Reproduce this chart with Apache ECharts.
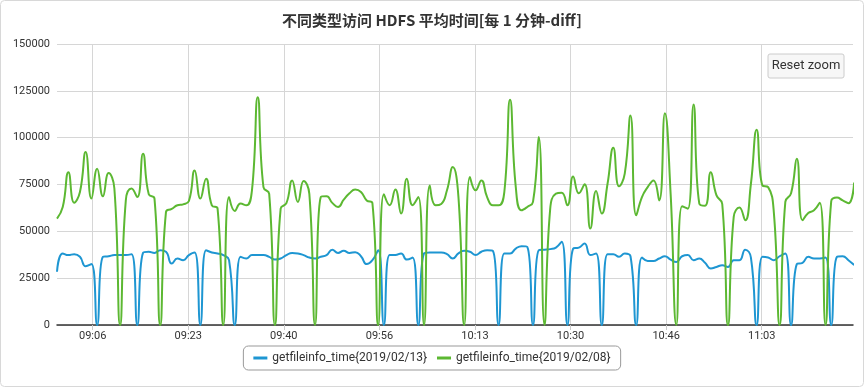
<!DOCTYPE html>
<html>
<head>
<meta charset="utf-8">
<script src="https://cdn.jsdelivr.net/npm/echarts@6/dist/echarts.min.js"></script>
<style>
html,body{margin:0;padding:0;background:#fff;}
#chart{width:864px;height:387px;}
</style>
</head>
<body>
<div id="chart"></div>
<script>
const titleText = '不同类型访问 HDFS 平均时间[每 1 分钟-diff]';
const seriesNames = ['getfileinfo_time{2019/02/13}', 'getfileinfo_time{2019/02/08}'];

// sample timestamps (one per minute)
const times = [
'09:00:27','09:01:27','09:02:27','09:03:27','09:04:27','09:05:27','09:06:27','09:07:27','09:08:27','09:09:27',
'09:10:27','09:11:27','09:12:27','09:13:27','09:14:27','09:15:27','09:16:27','09:17:27','09:18:27','09:19:27',
'09:20:27','09:21:27','09:22:27','09:23:27','09:24:27','09:25:27','09:26:27','09:27:27','09:28:27','09:29:27',
'09:30:27','09:31:27','09:32:27','09:33:27','09:34:27','09:35:27','09:36:27','09:37:27','09:38:27','09:39:27',
'09:40:27','09:41:27','09:42:27','09:43:27','09:44:27','09:45:27','09:46:27','09:47:27','09:48:27','09:49:27',
'09:50:27','09:51:27','09:52:27','09:53:27','09:54:27','09:55:27','09:56:27','09:57:27','09:58:27','09:59:27',
'10:00:27','10:01:27','10:02:27','10:03:27','10:04:27','10:05:27','10:06:27','10:07:27','10:08:27','10:09:27',
'10:10:27','10:11:27','10:12:27','10:13:27','10:14:27','10:15:27','10:16:27','10:17:27','10:18:27','10:19:27',
'10:20:27','10:21:27','10:22:27','10:23:27','10:24:27','10:25:27','10:26:27','10:27:27','10:28:27','10:29:27',
'10:30:27','10:31:27','10:32:27','10:33:27','10:34:27','10:35:27','10:36:27','10:37:27','10:38:27','10:39:27',
'10:40:27','10:41:27','10:42:27','10:43:27','10:44:27','10:45:27','10:46:27','10:47:27','10:48:27','10:49:27',
'10:50:27','10:51:27','10:52:27','10:53:27','10:54:27','10:55:27','10:56:27','10:57:27','10:58:27','10:59:27',
'11:00:27','11:01:27','11:02:27','11:03:27','11:04:27','11:05:27','11:06:27','11:07:27','11:08:27','11:09:27',
'11:10:27','11:11:27','11:12:27','11:13:27','11:14:27','11:15:27','11:16:27','11:17:27','11:18:27','11:19:27'
];

// getfileinfo_time{2019/02/13}
const blueValues = [
28400,38200,37300,37800,36400,31400,32500,0,36400,36700,
37300,37300,37300,37800,0,38500,39100,38500,39900,39100,
32800,35500,34600,37300,38700,0,39900,38700,38200,37300,
34600,0,36400,35500,37300,37300,37300,36400,34900,35500,
37300,38500,38200,37300,36000,35500,36400,37300,40200,38500,
39600,38500,38900,36700,32500,34600,39900,0,37300,37300,
38200,34900,36000,0,38200,38700,38700,38700,37800,35500,
38200,39600,39100,37300,39100,39900,39600,0,38200,38200,
40800,42100,41700,0,39900,40200,40500,41300,44400,0,
40800,41300,43500,37300,38200,0,37800,37800,36400,38200,
36700,0,36000,34200,34200,35500,36700,34900,33600,36700,
37300,34600,35500,33200,30200,31000,31900,31000,34600,34600,
40200,36000,0,36400,36000,34600,36700,38200,0,32500,
33200,36400,35500,35500,36000,0,36400,36700,34600,32000
];

// getfileinfo_time{2019/02/08}
const greenValues = [
56800,63000,81600,65300,71000,92300,67500,83400,68700,81100,
73000,0,66500,72800,68300,91400,69800,67500,0,60300,
62000,63900,64400,66200,82500,67500,78100,63900,62100,0,
68300,60900,64800,63900,72000,121600,73600,70000,0,62100,
65000,77200,65700,76900,70000,0,68300,68700,65200,63000,
66900,70300,72300,71000,66500,65000,0,69800,63900,72300,
59500,78100,63900,68300,0,74500,63900,64600,71900,84300,
68300,0,79000,71900,77200,68300,63900,63900,71000,120200,
73600,61200,63000,65700,100300,0,62000,70100,70600,63900,
79300,70300,75100,51500,71500,59500,75400,94600,74000,80800,
111800,58600,68300,73600,77200,66500,113100,70000,0,63400,
62100,117700,64800,63700,81600,69200,64600,0,57700,62700,
55900,75400,104200,74500,73600,60000,0,65700,70300,88800,
55900,59800,61200,65300,0,66000,68000,66500,65000,76000
];

// x-axis tick times and axis end
const tickTimes = ['09:06:40','09:23:20','09:40:00','09:56:40','10:13:20','10:30:00','10:46:40','11:03:20'];
const xAxisEnd = '11:19:15';
const yTicks = [0, 25000, 50000, 75000, 100000, 125000, 150000];

function toSec(t) {
  const p = t.split(':').map(Number);
  return p[0] * 3600 + p[1] * 60 + (p[2] || 0);
}
function fmt(s) {
  const h = Math.floor(s / 3600), m = Math.floor((s % 3600) / 60);
  return String(h).padStart(2, '0') + ':' + String(m).padStart(2, '0');
}

const xs = times.map(toSec);
const tickSecs = tickTimes.map(toSec);

const chart = echarts.init(document.getElementById('chart'), null, { renderer: 'canvas' });
const font = 'Roboto, "Noto Sans CJK SC", sans-serif';

const option = {
  animation: false,
  textStyle: { fontFamily: font },
  title: {
    text: titleText,
    left: 'center',
    top: 8,
    textStyle: { fontFamily: '"Noto Sans CJK SC", sans-serif', fontSize: 15, fontWeight: 'bold', color: '#333' }
  },
  grid: { left: 57, right: 11, top: 44, bottom: 62, containLabel: false },
  xAxis: {
    type: 'value',
    min: xs[0],
    max: toSec(xAxisEnd),
    axisLine: { show: true, onZero: false, lineStyle: { color: '#333', width: 1.5 } },
    axisTick: { show: true, customValues: tickSecs, length: 5, lineStyle: { color: '#ccc' } },
    axisLabel: { customValues: tickSecs, formatter: v => fmt(v), color: '#333', fontSize: 11, margin: 6, fontFamily: font },
    splitLine: { show: true, lineStyle: { color: '#d6d6d6', width: 1 } }
  },
  yAxis: {
    type: 'value',
    min: yTicks[0],
    max: yTicks[yTicks.length - 1],
    interval: yTicks[1] - yTicks[0],
    axisLine: { show: false },
    axisTick: { show: false },
    axisLabel: { color: '#333', fontSize: 11, margin: 7, fontFamily: font, formatter: v => String(v) },
    splitLine: { show: true, lineStyle: { color: '#d6d6d6', width: 1 } }
  },
  legend: {
    data: seriesNames,
    left: 'center',
    top: 346,
    icon: 'rect',
    itemWidth: 14,
    itemHeight: 3,
    itemGap: 10,
    borderColor: '#999',
    borderWidth: 1,
    borderRadius: 5,
    padding: [6, 10],
    textStyle: { color: '#333', fontSize: 12, fontFamily: font }
  },
  graphic: [
    { type: 'rect', shape: { x: 0.5, y: 0.5, width: 863, height: 386, r: 4 }, style: { fill: 'none', stroke: '#d8d8d8', lineWidth: 1 }, silent: true, z: -1 },
    { type: 'rect', shape: { x: 768, y: 54, width: 76, height: 24, r: 2 }, style: { fill: '#f7f7f7', stroke: '#cccccc', lineWidth: 1 }, z: 10 },
    { type: 'text', x: 806, y: 66, style: { text: 'Reset zoom', fill: '#333', font: '13px ' + font, textAlign: 'center', textVerticalAlign: 'middle' }, z: 11 }
  ],
  series: [
    {
      name: seriesNames[0], type: 'line', smooth: true, showSymbol: false,
      data: xs.map((x, i) => [x, blueValues[i]]),
      lineStyle: { width: 2, color: '#1e96d2' }, itemStyle: { color: '#1e96d2' }
    },
    {
      name: seriesNames[1], type: 'line', smooth: true, showSymbol: false,
      data: xs.map((x, i) => [x, greenValues[i]]),
      lineStyle: { width: 2, color: '#5cb832' }, itemStyle: { color: '#5cb832' }
    }
  ]
};
chart.setOption(option);
</script>
</body>
</html>
